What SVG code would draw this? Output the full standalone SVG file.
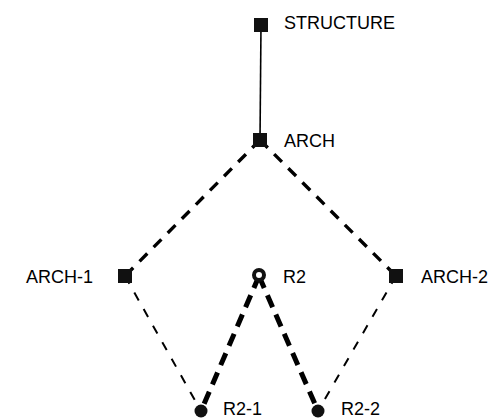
<svg xmlns="http://www.w3.org/2000/svg" width="498" height="419" viewBox="0 0 498 419">
<style>
.lbl{font-family:"Liberation Sans",Arial,sans-serif;font-size:18px;fill:#000}
.sq{fill:#111}
.dot{fill:#111}
.ring{fill:#fff;stroke:#111;stroke-width:4}
.solid{stroke:#000;stroke-width:1.6;fill:none}
.d1{stroke:#000;stroke-width:3.4;stroke-dasharray:11 9;fill:none}
.d2{stroke:#000;stroke-width:2;stroke-dasharray:9 10;fill:none}
.d3{stroke:#000;stroke-width:5;stroke-dasharray:13 8;fill:none}
</style>
<rect width="498" height="419" fill="#fff"/>
<g id="connectors">
<line class="solid" x1="261" y1="25" x2="260" y2="140"/>
<line class="d1" x1="260" y1="140" x2="125" y2="276"/>
<line class="d1" x1="260" y1="140" x2="396" y2="276"/>
<line class="d2" x1="125" y1="276" x2="201" y2="411"/>
<line class="d2" x1="396" y1="276" x2="318" y2="411"/>
<line class="d3" x1="259" y1="276" x2="201" y2="411"/>
<line class="d3" x1="259" y1="276" x2="318" y2="411"/>
</g>
<g id="structure"><rect class="sq" x="254" y="18" width="14" height="14"/><text class="lbl" x="284" y="29">STRUCTURE</text></g>
<g id="arch"><rect class="sq" x="253" y="133" width="14" height="14"/><text class="lbl" x="284" y="147">ARCH</text></g>
<g id="arch-1"><rect class="sq" x="118" y="269" width="14" height="14"/><text class="lbl" x="26" y="283">ARCH-1</text></g>
<g id="r2"><circle class="ring" cx="259" cy="275" r="5"/><text class="lbl" x="283" y="283">R2</text></g>
<g id="arch-2"><rect class="sq" x="389" y="269" width="14" height="14"/><text class="lbl" x="421" y="283">ARCH-2</text></g>
<g id="r2-1"><circle class="dot" cx="201" cy="411" r="6.5"/><text class="lbl" x="223" y="415">R2-1</text></g>
<g id="r2-2"><circle class="dot" cx="318" cy="411" r="6.5"/><text class="lbl" x="341" y="415">R2-2</text></g>
</svg>
